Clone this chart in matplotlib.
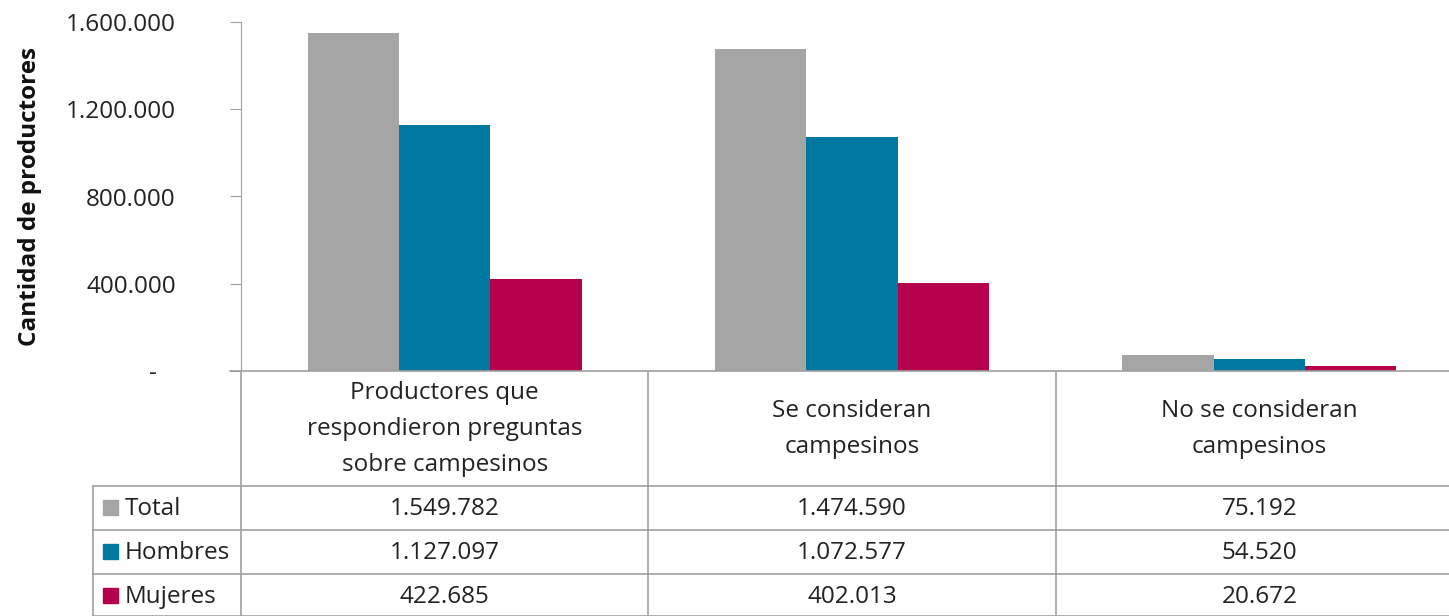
import matplotlib.pyplot as plt
import matplotlib.transforms as mtransforms
from matplotlib.lines import Line2D
from matplotlib.patches import Rectangle
from matplotlib.ticker import FuncFormatter

# Data
categories = ['Productores que\nrespondieron preguntas\nsobre campesinos',
              'Se consideran\ncampesinos',
              'No se consideran\ncampesinos']
series_names = ['Total', 'Hombres', 'Mujeres']
total = [1549782, 1474590, 75192]
hombres = [1127097, 1072577, 54520]
mujeres = [422685, 402013, 20672]
colors = ['#A5A5A5', '#0079A1', '#B5004B']

plt.rcParams['font.family'] = ['Open Sans', 'DejaVu Sans']

W, H = 1449, 616
fig = plt.figure(figsize=(W / 100, H / 100), dpi=100)
# the last column runs past the right edge of the picture
ax_w = 1222
ax = fig.add_axes([241 / W, 1 - 371 / H, ax_w / W, (371 - 22) / H])

def fmt(v):
    return f'{v:,.0f}'.replace(',', '.')

txt_c = '#222222'
fs = 17.5

# Bars
width = 0.224
x = range(len(categories))
for k, vals in enumerate([total, hombres, mujeres]):
    ax.bar([i + (k - 1) * width for i in x], vals, width=width,
           color=colors[k], zorder=2)

ax.set_xlim(-0.5, len(categories) - 0.5)
ax.set_ylim(0, 1600000)
ax.set_yticks([0, 400000, 800000, 1200000, 1600000])
ax.yaxis.set_major_formatter(FuncFormatter(lambda v, p: '-   ' if v == 0 else fmt(v)))
ax.set_xticks([])
for s in ['top', 'right', 'bottom']:
    ax.spines[s].set_visible(False)
ax.spines['left'].set_color('#A0A0A0')
ax.tick_params(axis='y', direction='out', length=8, color='#A0A0A0',
               labelsize=fs, labelcolor=txt_c, pad=39)
ax.set_ylabel('Cantidad de productores', fontsize=17.5, fontweight='bold',
              color='#111111')
ax.yaxis.label.set_va('center')
ax.yaxis.set_label_coords((30 - 241) / ax_w, 0.5)

# Data table under the chart
line_c = '#A0A0A0'
def fy(py):
    return 1 - py / H

blend = mtransforms.blended_transform_factory(ax.transData, fig.transFigure)

# horizontal lines
fig.add_artist(Line2D([230 / W, 1], [fy(371), fy(371)], color=line_c, lw=1.2))
for py in [486, 530, 574, 615.5]:
    fig.add_artist(Line2D([93 / W, 1], [fy(py), fy(py)], color=line_c, lw=1.2))
# vertical lines
fig.add_artist(Line2D([241 / W, 241 / W], [fy(371), 0], color=line_c, lw=1.2))
fig.add_artist(Line2D([93 / W, 93 / W], [fy(486), 0], color=line_c, lw=1.2))
for b in [0.5, 1.5]:
    fig.add_artist(Line2D([b, b], [fy(371), 0], color=line_c, lw=1.2,
                          transform=blend))

# category header
for i, cat in enumerate(categories):
    fig.text(i, fy(429), cat, transform=blend, ha='center', va='center',
             fontsize=fs, color=txt_c, linespacing=1.68)

# rows
row_y = [509, 553, 597]
for r, (name, vals) in enumerate(zip(series_names, [total, hombres, mujeres])):
    fig.add_artist(Rectangle((103 / W, fy(row_y[r] + 6)), 15 / W, 15 / H,
                             color=colors[r], transform=fig.transFigure))
    fig.text(125 / W, fy(row_y[r]), name, ha='left', va='center',
             fontsize=fs, color=txt_c)
    for i, v in enumerate(vals):
        fig.text(i, fy(row_y[r]), fmt(v), transform=blend, ha='center',
                 va='center', fontsize=fs, color=txt_c)

fig.savefig('out.png', dpi=100)
